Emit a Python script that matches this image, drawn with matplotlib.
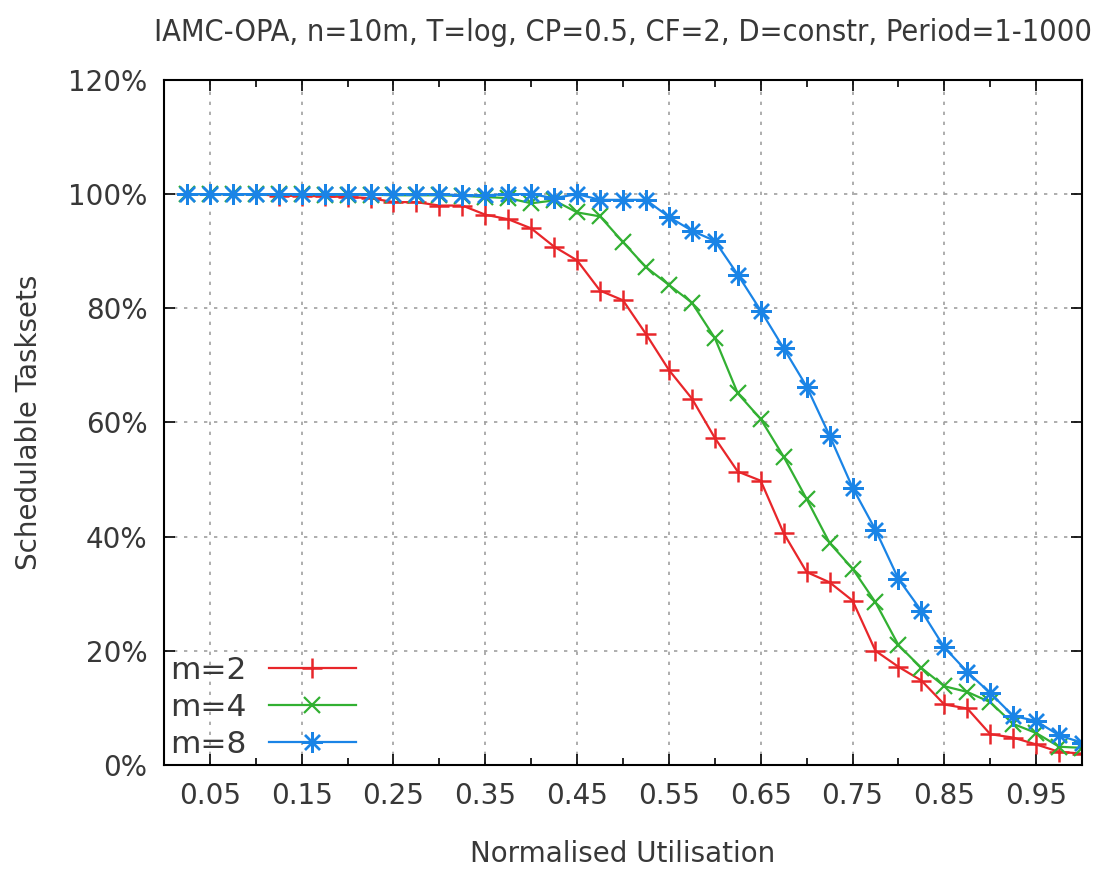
import numpy as np
import matplotlib
matplotlib.use("Agg")
import matplotlib.pyplot as plt
from matplotlib.ticker import FixedLocator, MultipleLocator

# utilisation steps
util = [0.025, 0.05, 0.075, 0.1, 0.125, 0.15, 0.175, 0.2, 0.225, 0.25,
        0.275, 0.3, 0.325, 0.35, 0.375, 0.4, 0.425, 0.45, 0.475, 0.5,
        0.525, 0.55, 0.575, 0.6, 0.625, 0.65, 0.675, 0.7, 0.725, 0.75,
        0.775, 0.8, 0.825, 0.85, 0.875, 0.9, 0.925, 0.95, 0.975, 1.0]

# schedulable tasksets (%)
m2 = [100, 100, 100, 100, 99.7, 99.7, 99.6, 99.5, 99.3, 98.6,
      98.6, 98.0, 98.0, 96.4, 95.6, 94.0, 90.8, 88.4, 83.1, 81.4,
      75.5, 69.2, 64.2, 57.3, 51.4, 49.8, 40.6, 33.8, 32.0, 28.8,
      20.0, 17.2, 14.8, 10.6, 9.9, 5.4, 4.8, 3.6, 2.3, 2.0]
m4 = [100, 100, 100, 100, 100, 100, 99.9, 99.9, 99.9, 99.8,
      99.8, 99.8, 99.7, 99.5, 99.3, 98.4, 98.9, 96.8, 96.1, 91.6,
      87.2, 84.1, 81.0, 74.8, 65.1, 60.6, 54.0, 46.6, 38.9, 34.4,
      28.5, 21.0, 17.0, 13.8, 12.8, 11.0, 7.2, 5.6, 3.2, 3.0]
m8 = [100, 100, 100, 100, 100, 100, 100, 100, 100, 100,
      100, 100, 99.8, 99.8, 100, 100, 99.3, 100, 99.0, 99.0,
      99.0, 96.0, 93.6, 91.8, 85.9, 79.6, 73.0, 66.3, 57.7, 48.6,
      41.2, 32.6, 27.0, 20.6, 16.3, 12.6, 8.6, 7.7, 5.2, 3.9]

labels = ["m=2", "m=4", "m=8"]
xticks = [0.05, 0.15, 0.25, 0.35, 0.45, 0.55, 0.65, 0.75, 0.85, 0.95]
yticks = [0, 20, 40, 60, 80, 100, 120]

txt = "#383838"
plt.rcParams['font.family'] = ['DejaVu Sans']

fig = plt.figure(figsize=(11.13, 8.71), dpi=100)
ax = fig.add_axes([0.1473, 0.1217, 0.8249, 0.7865])

ax.plot(util, m2, color="#e8262a", lw=1.6, marker="+", ms=14, mew=1.8, label=labels[0])
ax.plot(util, m4, color="#32b032", lw=1.6, marker="x", ms=11, mew=1.6, label=labels[1])
ax.plot(util, m8, color="#1a84e6", lw=1.6, marker=(8, 2, 0), ms=15, mew=1.7, label=labels[2])

ax.set_xlim(0, 1.0)
ax.set_ylim(0, 120)
ax.xaxis.set_major_locator(FixedLocator(xticks))
ax.xaxis.set_minor_locator(FixedLocator([0.1, 0.2, 0.3, 0.4, 0.5, 0.6, 0.7, 0.8, 0.9]))
ax.set_xticklabels(["%.2f" % t for t in xticks])
ax.set_yticks(yticks)
ax.set_yticklabels(["%d%%" % t for t in yticks])

ax.tick_params(which="both", direction="in", top=True, right=True, colors="black",
               labelcolor=txt, labelsize=20)
ax.tick_params(which="major", length=8, width=1.2, pad=12)
ax.tick_params(which="minor", length=5, width=1.2)
for s in ax.spines.values():
    s.set_linewidth(1.5)

ax.grid(True, which="major", color="#a0a0a0", linestyle=(0, (2, 4)), linewidth=1.2)

ax.set_xlabel("Normalised Utilisation", fontsize=20, color=txt, labelpad=22)
ax.set_ylabel("Schedulable Tasksets", fontsize=20, color=txt, labelpad=18)
ax.set_title("IAMC-OPA, n=10m, T=log, CP=0.5, CF=2, D=constr, Period=1-1000",
             fontsize=22, color=txt, pad=28, fontstretch="condensed")

leg = ax.legend(loc="lower left", frameon=False, markerfirst=False, numpoints=1,
                handlelength=2.8, fontsize=22.5, labelspacing=0.25,
                borderaxespad=0.0, borderpad=0.2, handletextpad=0.7)
for t in leg.get_texts():
    t.set_color(txt)

fig.savefig("out.png", dpi=100)
